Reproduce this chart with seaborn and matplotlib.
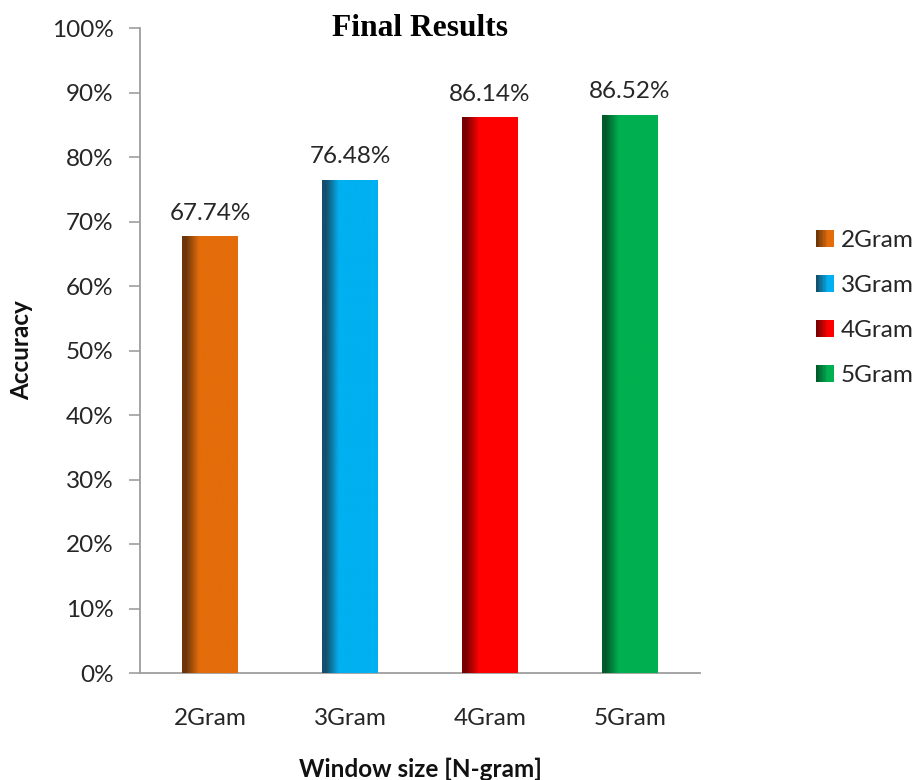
import numpy as np
import pandas as pd
import matplotlib
matplotlib.use("Agg")
import matplotlib.pyplot as plt
from matplotlib.colors import LinearSegmentedColormap, to_rgb
from matplotlib.legend_handler import HandlerBase
from matplotlib.patches import Rectangle
import seaborn as sns

# Data
categories = ["2Gram", "3Gram", "4Gram", "5Gram"]
accuracy = [67.74, 76.48, 86.14, 86.52]
bright_colors = ["#E46C0A", "#00B0F0", "#FF0000", "#00B050"]
dark_colors = ["#6E3608", "#12506E", "#7A0000", "#005C2B"]
y_ticks = [0, 10, 20, 30, 40, 50, 60, 70, 80, 90, 100]

sns.set_theme(style="white")
plt.rcParams["font.family"] = ["Lato", "DejaVu Sans"]

FS = 17.5

df = pd.DataFrame({"ngram": categories, "acc": accuracy})

fig = plt.figure(figsize=(9.16, 7.8), dpi=100)
ax = fig.add_axes([140 / 916, 107 / 780, 560 / 916, 645 / 780])

sns.barplot(data=df, x="ngram", y="acc", color=bright_colors[0],
            width=0.4, ax=ax, saturation=1, errorbar=None)
bars = ax.containers[0]


def gradient_cmap(dark, bright):
    return LinearSegmentedColormap.from_list(
        "g", [(0.0, dark), (0.07, dark), (0.30, bright), (1.0, bright)])


# Horizontal shading from a dark left edge into the bar colour
t = np.linspace(0, 1, 200).reshape(1, -1)
for patch, dk, br in zip(bars.patches, dark_colors, bright_colors):
    patch.set_facecolor(br)
    patch.set_edgecolor("none")
    x0, w, h = patch.get_x(), patch.get_width(), patch.get_height()
    im = ax.imshow(t, cmap=gradient_cmap(dk, br), aspect="auto",
                   extent=[x0, x0 + w, 0, h], origin="lower", zorder=3)
    im.set_clip_path(patch)

ax.set_xlim(-0.5, 3.5)
ax.set_ylim(0, 100)
ax.set_yticks(y_ticks)
ax.set_yticklabels([f"{v}%" for v in y_ticks])

ax.bar_label(bars, labels=[f"{v:.2f}%" for v in accuracy], padding=9,
             fontsize=FS, color="#262626")

for side in ["top", "right"]:
    ax.spines[side].set_visible(False)
for side in ["left", "bottom"]:
    ax.spines[side].set_color("#9E9E9E")
    ax.spines[side].set_linewidth(1.3)

ax.tick_params(axis="y", which="major", left=True, length=8, width=1.2,
               color="#9E9E9E", pad=11, labelsize=FS, labelcolor="#262626")
ax.tick_params(axis="x", bottom=False, pad=19, labelsize=FS,
               labelcolor="#262626")

ax.set_xlabel("Window size [N-gram]", fontsize=FS, fontweight="bold",
              color="#111111")
ax.set_ylabel("Accuracy", fontsize=FS, fontweight="bold", color="#111111")
ax.xaxis.set_label_coords(0.5, -0.131)
ax.yaxis.set_label_coords(-0.19, 0.5)

ax.text(0.5, 1.0, "Final Results", transform=ax.transAxes, ha="center",
        va="center", fontsize=22.7, fontweight="bold",
        family=["Liberation Serif", "DejaVu Serif"], color="#000000")


class GradientSquare(HandlerBase):
    def __init__(self, dark, bright):
        super().__init__()
        self.dark = to_rgb(dark)
        self.bright = to_rgb(bright)

    def create_artists(self, legend, orig_handle, xdescent, ydescent,
                       width, height, fontsize, trans):
        size = height * 1.0
        x0 = -xdescent + (width - size)
        y0 = -ydescent + (height - size) / 2
        n = 12
        arts = []
        for i in range(n):
            f = min(1.0, (i / (n - 1)) * 1.4)
            col = tuple(d + (b - d) * f for d, b in zip(self.dark, self.bright))
            arts.append(Rectangle((x0 + size * i / n, y0), size / n + 0.3, size,
                                  facecolor=col, edgecolor="none",
                                  transform=trans))
        return arts


handles = [Rectangle((0, 0), 1, 1) for _ in categories]
handler_map = {h: GradientSquare(d, b)
               for h, d, b in zip(handles, dark_colors, bright_colors)}
fig.legend(handles, categories, handler_map=handler_map, loc="upper left",
           bbox_to_anchor=(804 / 916, 1 - 220 / 780), frameon=False,
           fontsize=FS, labelspacing=0.99, handlelength=0.8,
           handletextpad=0.3, labelcolor="#262626", borderaxespad=0)

fig.savefig("out.png", dpi=100, facecolor="white")
